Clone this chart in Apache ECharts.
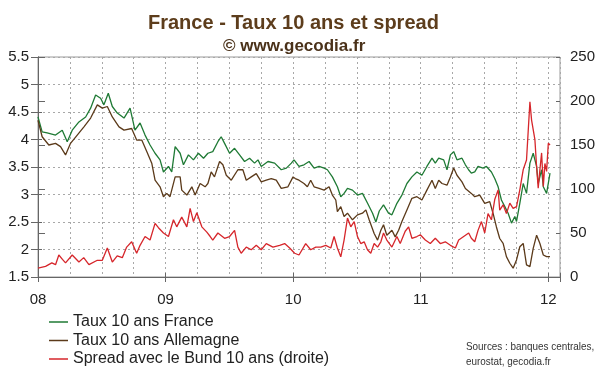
<!DOCTYPE html>
<html><head><meta charset="utf-8">
<script src="https://cdn.jsdelivr.net/npm/echarts@6/dist/echarts.min.js"></script>
<style>html,body{margin:0;padding:0;background:#fff}#c{width:600px;height:372px}</style>
</head><body><div id="c"></div>
<script>
// x positions are months since 1 Jan 2008
const yearLabels = ['08', '09', '10', '11', '12'];
const seriesNames = ['Taux 10 ans France', 'Taux 10 ans Allemagne', 'Spread avec le Bund 10 ans (droite)'];

const frMonths = [0,0.39,0.86,1.65,2.28,2.75,3.22,3.85,4.48,4.95,5.42,5.89,6.2,6.61,6.99,7.46,8.09,8.66,9.12,9.6,10.07,10.54,11.01,11.48,11.8,12.27,12.58,12.9,13.37,13.68,14.15,14.62,15.09,15.57,15.98,16.44,16.92,17.23,17.55,18.02,18.49,18.96,19.43,19.9,20.37,20.69,21.0,21.63,22.26,22.88,23.36,23.83,24.08,24.55,25.02,25.5,25.97,26.44,26.91,27.22,27.69,28.16,28.48,28.79,29.11,29.58,30.05,30.52,31.0,31.47,31.78,32.1,32.5,32.97,33.29,33.76,34.23,34.7,35.17,35.64,36.11,36.58,37.06,37.37,37.69,38.16,38.47,38.79,39.1,39.41,39.88,40.2,40.5,40.76,41.08,41.39,41.86,42.18,42.65,42.96,43.28,43.59,43.91,44.22,44.54,44.85,45.01,45.32,45.64,45.95,46.27,46.58,46.9,47.05,47.37,47.53,47.84,48.16];
const frRates = [4.41,4.14,4.12,4.08,4.17,3.96,4.17,4.32,4.41,4.57,4.81,4.75,4.63,4.84,4.60,4.48,4.39,4.57,4.17,4.30,4.08,3.90,3.75,3.63,3.41,3.51,3.41,3.87,3.75,3.54,3.72,3.63,3.75,3.66,3.75,3.78,3.96,4.05,3.93,3.75,3.84,3.72,3.60,3.66,3.57,3.63,3.51,3.60,3.57,3.45,3.48,3.57,3.63,3.51,3.54,3.60,3.48,3.51,3.48,3.45,3.32,3.14,2.96,3.02,3.11,3.08,2.99,3.02,2.84,2.66,2.50,2.70,2.81,2.66,2.63,2.84,2.99,3.20,3.32,3.41,3.35,3.51,3.66,3.57,3.66,3.63,3.45,3.72,3.78,3.63,3.66,3.54,3.45,3.39,3.41,3.51,3.48,3.51,3.41,3.29,3.14,2.90,2.78,2.66,2.48,2.60,2.51,2.84,3.20,3.02,3.57,3.75,3.51,3.20,3.45,3.14,3.02,3.39];

const deMonths = [0,0.39,1.02,1.65,2.12,2.59,3.06,3.69,4.32,4.95,5.58,6.05,6.52,6.99,7.62,8.09,8.81,9.28,9.76,10.23,10.7,11.01,11.48,11.8,12.11,12.42,12.9,13.37,13.52,14.0,14.47,14.78,15.25,15.72,15.98,16.29,16.6,17.08,17.39,17.71,18.18,18.8,19.27,19.59,20.06,20.53,21.0,21.47,21.94,22.41,22.88,23.51,23.99,24.2,24.55,25.02,25.34,25.65,25.97,26.44,26.91,27.38,27.69,28.01,28.16,28.48,28.79,29.11,29.58,30.05,30.52,30.84,31.15,31.62,31.94,32.25,32.5,32.81,33.29,33.6,33.92,34.23,34.7,35.17,35.64,36.11,36.58,37.06,37.37,37.69,38.0,38.47,38.79,39.1,39.41,39.88,40.2,40.76,41.08,41.55,42.02,42.49,42.8,43.12,43.43,43.75,44.06,44.38,44.69,45.01,45.32,45.64,45.95,46.27,46.58,46.9,47.21,47.53,47.84,48.16];
const deRates = [4.35,4.05,3.90,3.93,3.87,3.72,3.93,4.08,4.23,4.39,4.63,4.57,4.60,4.41,4.23,4.17,4.20,3.99,3.99,3.78,3.57,3.26,3.14,2.96,3.02,2.96,3.32,3.32,3.08,2.99,3.14,2.99,3.20,3.14,3.20,3.41,3.32,3.60,3.54,3.35,3.26,3.45,3.45,3.26,3.32,3.38,3.23,3.26,3.29,3.26,3.11,3.14,3.32,3.29,3.26,3.20,3.14,3.26,3.14,3.11,3.08,3.14,2.99,2.90,2.69,2.78,2.60,2.66,2.54,2.63,2.66,2.72,2.54,2.29,2.17,2.35,2.45,2.26,2.35,2.23,2.35,2.51,2.72,2.93,2.96,2.90,3.08,3.26,3.11,3.26,3.20,3.17,3.32,3.48,3.35,3.23,3.11,3.02,2.96,2.99,2.84,2.87,2.66,2.41,2.20,2.11,1.87,1.75,1.66,1.81,2.05,2.11,1.72,1.69,2.02,2.26,2.11,1.90,1.87,1.87];

const spMonths = [0,0.71,1.3,1.65,1.96,2.3,2.59,3.22,3.85,4.3,4.79,5.58,6.05,6.52,6.99,7.45,7.93,8.34,8.81,9.28,9.6,10.07,10.54,11.01,11.33,11.8,12.27,12.74,13.05,13.52,14.0,14.31,14.62,14.94,15.41,15.88,16.2,16.44,16.92,17.55,18.02,18.49,18.8,19.11,19.59,20.06,20.53,21.0,21.47,22.1,22.73,23.2,23.67,24.14,24.55,25.18,25.65,26.13,26.6,27.07,27.54,27.85,28.16,28.48,28.79,29.11,29.42,29.74,30.05,30.36,30.68,30.99,31.3,31.62,31.94,32.25,32.5,32.81,33.29,33.76,34.07,34.54,34.86,35.17,35.64,35.96,36.43,36.9,37.37,37.84,38.31,38.79,39.26,39.57,40.04,40.51,40.76,41.08,41.39,41.71,42.02,42.33,42.65,42.96,43.28,43.43,43.75,44.06,44.38,44.69,45.01,45.32,45.64,45.95,46.27,46.43,46.74,46.9,47.05,47.21,47.37,47.53,47.68,47.84,48.0,48.16];
const spValues = [10,12,16,14,25,20,16,25,17,22,14,19,19,33,17,24,22,34,40,27,36,46,42,61,56,50,46,65,57,68,57,78,63,73,57,51,46,42,50,44,46,53,34,27,34,31,36,31,38,34,36,38,33,27,25,38,31,34,34,36,33,46,33,23,42,67,57,63,46,38,40,31,27,38,34,40,50,42,34,46,38,52,57,44,46,48,42,38,44,38,40,36,33,42,46,50,44,40,53,63,50,72,65,88,99,76,82,72,84,78,80,99,122,133,199,178,156,125,101,122,141,103,129,120,152,150];

const leftTicks = {min: 1.5, max: 5.5, step: 0.5};
const rightTicks = {min: 0, max: 250, step: 50};
const xRange = {min: 0, max: 49.1, step: 12};

function pairs(xs, ys) { return xs.map((x, i) => [x, ys[i]]); }

const FONT = 'Arial, "Liberation Sans", Helvetica, sans-serif';
const grid = '#a8a8a8';
const axisCol = '#666';

const chart = echarts.init(document.getElementById('c'), null, {renderer: 'canvas'});
chart.setOption({
  animation: false,
  backgroundColor: '#fff',
  textStyle: {fontFamily: FONT},
  color: ['#1f7a35', '#5b3a1a', '#d6262b'],
  title: [
    {text: 'France - Taux 10 ans et spread', left: 143, top: 8,
     textStyle: {fontSize: 20, fontWeight: 'bold', color: '#5d3d1c', fontFamily: FONT}},
    {text: '© www.gecodia.fr', left: 218, top: 33,
     textStyle: {fontSize: 17, fontWeight: 'bold', color: '#4a3119', fontFamily: FONT}}
  ],
  grid: {left: 38, right: 40, top: 57, bottom: 95, show: true, borderColor: '#9a9a9a', borderWidth: 1},
  legend: {
    orient: 'vertical', left: 49, top: 314, height: 58, padding: 0,
    itemGap: 2.5, itemWidth: 19, itemHeight: 1.5, icon: 'rect',
    textStyle: {fontSize: 16, color: '#222', fontFamily: FONT},
    data: seriesNames
  },
  xAxis: [
    {type: 'value', min: xRange.min, max: xRange.max, interval: xRange.step,
     axisLine: {lineStyle: {color: axisCol}},
     axisTick: {show: true, length: 5, lineStyle: {color: axisCol}},
     axisLabel: {fontSize: 15, color: '#222', margin: 15,
       formatter: v => (Math.abs(v % 12) < 1e-6 ? yearLabels[v / 12] : '')},
     splitLine: {show: true, lineStyle: {color: grid, type: [2, 3]}},
     minorTick: {show: false, splitNumber: 4},
     minorSplitLine: {show: true, lineStyle: {color: grid, type: [2, 3]}}},
    {type: 'value', position: 'bottom', min: xRange.min, max: xRange.max, interval: xRange.step,
     axisLine: {show: false}, axisLabel: {show: false}, splitLine: {show: false},
     axisTick: {show: true, inside: true, length: 4, lineStyle: {color: axisCol}}}
  ],
  yAxis: [
    {type: 'value', position: 'left', min: leftTicks.min, max: leftTicks.max, interval: leftTicks.step,
     axisLine: {show: true, lineStyle: {color: axisCol}},
     axisTick: {show: true, length: 7, lineStyle: {color: axisCol}},
     axisLabel: {fontSize: 15, color: '#222', margin: 9},
     splitLine: {show: true, lineStyle: {color: grid, type: [2, 3]}}},
    {type: 'value', position: 'right', min: rightTicks.min, max: rightTicks.max, interval: rightTicks.step,
     axisLine: {show: true, lineStyle: {color: axisCol}},
     axisTick: {show: true, length: 7, lineStyle: {color: axisCol}},
     axisLabel: {fontSize: 15, color: '#222', margin: 10},
     splitLine: {show: false}},
    {type: 'value', position: 'left', offset: 0, min: leftTicks.min, max: leftTicks.max, interval: leftTicks.step,
     axisLine: {show: false}, axisLabel: {show: false}, splitLine: {show: false},
     axisTick: {show: true, inside: true, length: 4, lineStyle: {color: axisCol}}},
    {type: 'value', position: 'right', offset: 0, min: rightTicks.min, max: rightTicks.max, interval: rightTicks.step,
     axisLine: {show: false}, axisLabel: {show: false}, splitLine: {show: false},
     axisTick: {show: true, inside: true, length: 4, lineStyle: {color: axisCol}}}
  ],
  graphic: [
    {type: 'text', left: 466, top: 339, scaleX: 0.9,
     style: {text: 'Sources : banques centrales,\neurostat, gecodia.fr', font: '11px Arial, "Liberation Sans"',
       fill: '#333', lineHeight: 15}}
  ],
  series: [
    {name: seriesNames[0], type: 'line', yAxisIndex: 0, showSymbol: false, data: pairs(frMonths, frRates), lineStyle: {width: 1.3}},
    {name: seriesNames[1], type: 'line', yAxisIndex: 0, showSymbol: false, data: pairs(deMonths, deRates), lineStyle: {width: 1.3}},
    {name: seriesNames[2], type: 'line', yAxisIndex: 1, showSymbol: false, data: pairs(spMonths, spValues), lineStyle: {width: 1.3}}
  ]
});
</script></body></html>
